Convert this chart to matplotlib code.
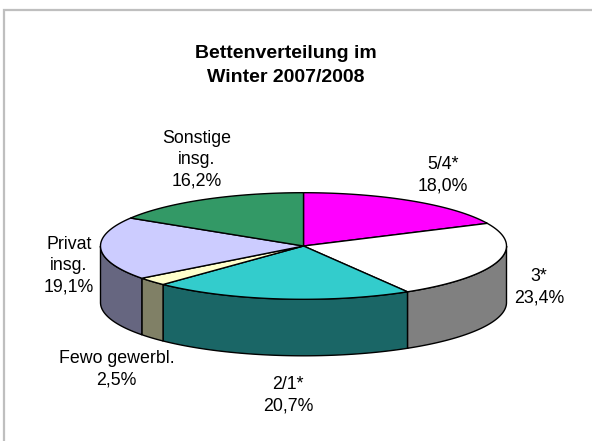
import numpy as np
import matplotlib
matplotlib.use('Agg')
import matplotlib.pyplot as plt
from matplotlib.patches import Polygon

plt.rcParams['font.family'] = ['Liberation Sans', 'DejaVu Sans']

# slices clockwise from 12 o'clock
labels = ['5/4*', '3*', '2/1*', 'Fewo gewerbl.', 'Privat\ninsg.', 'Sonstige\ninsg.']
values = [18.0, 23.4, 20.7, 2.5, 19.1, 16.2]
colors = ['#FF00FF', '#FFFFFF', '#33CCCC', '#FFFFCC', '#CCCCFF', '#339966']
side_colors = ['#800080', '#808080', '#1A6666', '#808066', '#666680', '#1A4D33']

W, H = 592, 441
cx, cy = 303.5, 246
rx, ry = 203, 53.3
depth = 56.5

fig = plt.figure(figsize=(W / 100, H / 100), dpi=100)
ax = fig.add_axes([0, 0, 1, 1])
ax.set_xlim(0, W)
ax.set_ylim(H, 0)
ax.axis('off')

# only top and left of the frame are in the picture
ax.plot([4, 4, W], [H, 10, 10], color='#BFBFBF', lw=1.6, zorder=0, solid_joinstyle='miter')


def rim(a0, a1):
    t = np.radians(np.linspace(a0, a1, 200))
    return cx + rx * np.sin(t), cy - ry * np.cos(t)


edges = np.cumsum([0] + values) / sum(values) * 360

# side walls, only the front half (90..270 deg) can be seen
for i in range(len(values)):
    a0, a1 = max(edges[i], 90), min(edges[i + 1], 270)
    if a1 <= a0:
        continue
    x, y = rim(a0, a1)
    xs = np.concatenate([x, x[::-1]])
    ys = np.concatenate([y, y[::-1] + depth])
    ax.add_patch(Polygon(np.column_stack([xs, ys]), fc=side_colors[i], ec='black', lw=1.0, zorder=2))

# top face
for i in range(len(values)):
    x, y = rim(edges[i], edges[i + 1])
    xs = np.concatenate([[cx], x])
    ys = np.concatenate([[cy], y])
    ax.add_patch(Polygon(np.column_stack([xs, ys]), fc=colors[i], ec='black', lw=1.0, zorder=3))

ax.text(285.5, 65.5, 'Bettenverteilung im\nWinter 2007/2008', ha='center', va='center',
        fontsize=14, fontweight='bold', linespacing=1.55)

label_pos = [(443, 175.5), (539, 287), (288, 395), (116.5, 369), (68.7, 266), (197, 160)]
for lab, v, (lx, ly) in zip(labels, values, label_pos):
    s = lab + '\n' + ('%.1f%%' % v).replace('.', ',')
    ax.text(lx, ly, s, ha='center', va='center', fontsize=12.8, linespacing=1.32)

fig.savefig('out.png', dpi=100, facecolor='white')
